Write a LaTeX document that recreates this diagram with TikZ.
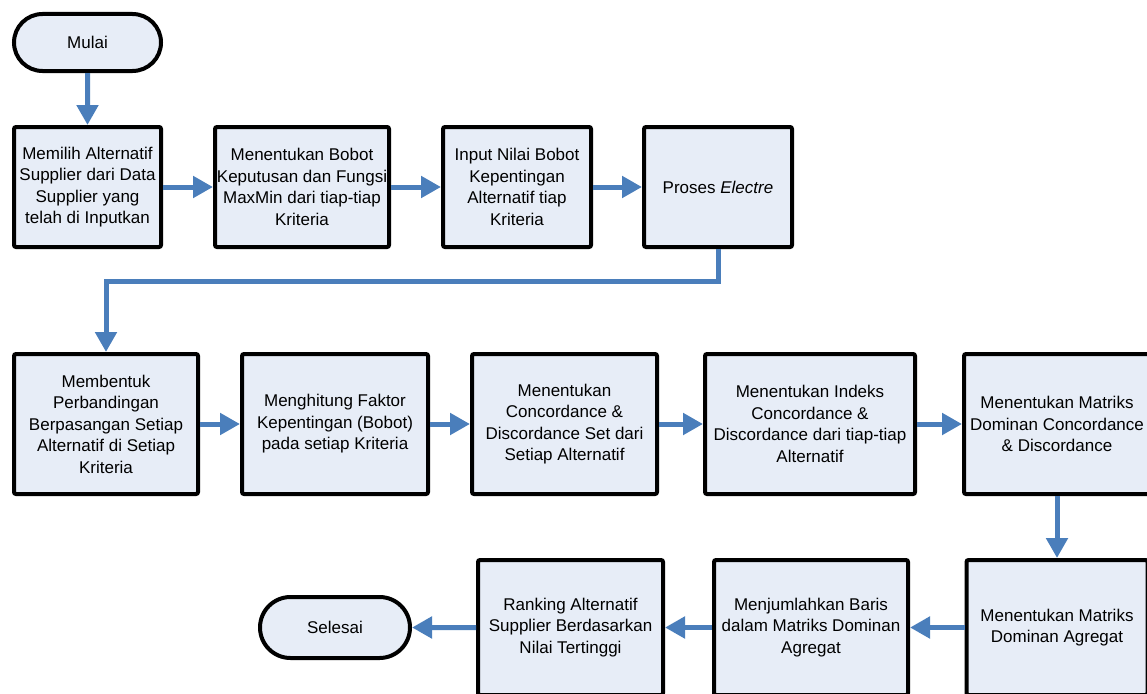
\documentclass[tikz,border=0pt]{standalone}
\usepackage{fontspec}
\setmainfont{Liberation Sans}
\usetikzlibrary{arrows.meta,shapes.misc}
\definecolor{flowblue}{HTML}{4A7EBB}
\definecolor{boxfill}{HTML}{E7EDF7}
\tikzset{
  procbox/.style={draw=black, line width=4pt, fill=boxfill, rounded corners=2pt,
    align=center, inner sep=0pt, font=\fontsize{17}{21.5}\selectfont},
  termbox/.style={draw=black, line width=4pt, fill=boxfill, rounded rectangle,
    align=center, inner sep=0pt, font=\fontsize{17}{21.5}\selectfont},
  flow/.style={draw=flowblue, line width=5pt, -{Triangle[length=20pt,width=21pt]}}
}
\begin{document}
\begin{tikzpicture}[x=1pt,y=1pt]
\useasboundingbox (0,0) rectangle (1147,-693);
\clip (0,0) rectangle (1147,-693);

% start / end terminals
\node[termbox, minimum width=147, minimum height=57] (mulai) at (87.5,-42.5) {Mulai};
\node[termbox, minimum width=150, minimum height=61] (selesai) at (335,-627.5) {Selesai};

% first row
\node[procbox, minimum width=147, minimum height=120] (b1) at (87.5,-187)
  {Memilih Alternatif\\Supplier dari Data\\Supplier yang\\telah di Inputkan};
\node[procbox, minimum width=174, minimum height=120] (b2) at (302,-187)
  {Menentukan Bobot\\Keputusan dan Fungsi\\MaxMin dari tiap-tiap\\Kriteria};
\node[procbox, minimum width=148, minimum height=120] (b3) at (517,-187)
  {Input Nilai Bobot\\Kepentingan\\Alternatif tiap\\Kriteria};
\node[procbox, minimum width=148, minimum height=120] (b4) at (718,-187)
  {Proses \textit{Electre}};

% second row
\node[procbox, minimum width=184, minimum height=140] (b5) at (106,-424)
  {Membentuk\\Perbandingan\\Berpasangan Setiap\\Alternatif di Setiap\\Kriteria};
\node[procbox, minimum width=186, minimum height=140] (b6) at (335,-424)
  {Menghitung Faktor\\Kepentingan (Bobot)\\pada setiap Kriteria};
\node[procbox, minimum width=185, minimum height=140] (b7) at (564.5,-424)
  {Menentukan\\Concordance \&\\Discordance Set dari\\Setiap Alternatif};
\node[procbox, minimum width=210, minimum height=140] (b8) at (810,-424)
  {Menentukan Indeks\\Concordance \&\\Discordance dari tiap-tiap\\Alternatif};
\node[procbox, minimum width=186, minimum height=140] (b9) at (1057,-424)
  {Menentukan Matriks\\Dominan Concordance\\\& Discordance};

% third row
\node[procbox, minimum width=181, minimum height=135] (b10) at (1057,-627.5)
  {Menentukan Matriks\\Dominan Agregat};
\node[procbox, minimum width=194, minimum height=135] (b11) at (811,-627.5)
  {Menjumlahkan Baris\\dalam Matriks Dominan\\Agregat};
\node[procbox, minimum width=185, minimum height=135] (b12) at (570.5,-627.5)
  {Ranking Alternatif\\Supplier Berdasarkan\\Nilai Tertinggi};

% connectors
\draw[flow] (mulai) -- (b1);
\draw[flow] (b1) -- (b2);
\draw[flow] (b2) -- (b3);
\draw[flow] (b3) -- (b4);
\draw[flow] (b4.south) -- ++(0,-32) -| (b5.north);
\draw[flow] (b5) -- (b6);
\draw[flow] (b6) -- (b7);
\draw[flow] (b7) -- (b8);
\draw[flow] (b8) -- (b9);
\draw[flow] (b9.south) -- (b9.south |- b10.north);
\draw[flow] (b10) -- (b11);
\draw[flow] (b11) -- (b12);
\draw[flow] (b12) -- (selesai);
\end{tikzpicture}
\end{document}
